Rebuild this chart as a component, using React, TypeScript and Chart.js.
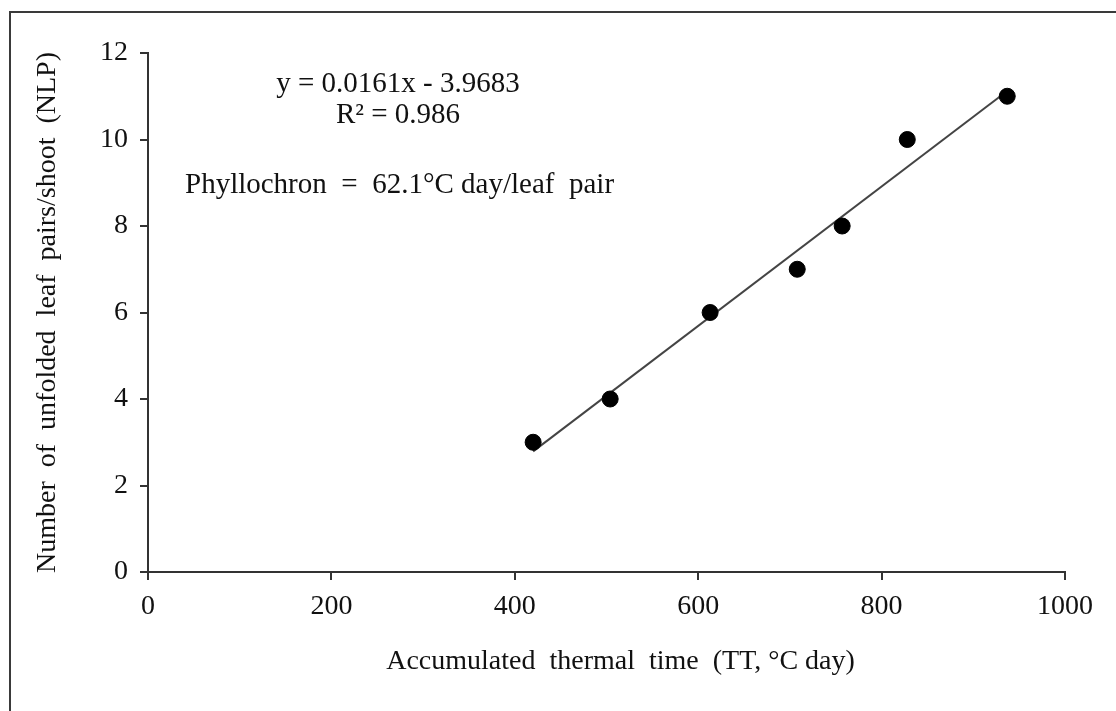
import React, { useEffect, useRef } from "react";
import { Chart, registerables } from "chart.js";

Chart.register(...registerables);

// Data
const thermalTime = [420, 504, 613, 708, 757, 828, 937];
const leafPairs = [3, 4, 6, 7, 8, 10, 11];
// Linear trend line endpoints (from the printed equation at the data extremes)
const trendX = [420, 937];
const trendY = [2.79, 11.12];

const xTicks = [0, 200, 400, 600, 800, 1000];
const yTicks = [0, 2, 4, 6, 8, 10, 12];

const equationText = "y = 0.0161x - 3.9683";
const r2Text = "R\u00b2 = 0.986";
const phyllochronText = "Phyllochron  =  62.1\u00b0C day/leaf  pair";
const xTitle = "    Accumulated  thermal  time  (TT, \u00b0C day)";
const yTitle = "Number  of  unfolded  leaf  pairs/shoot  (NLP)";

const FONT = "'Liberation Serif', 'Times New Roman', serif";

const framePlugin = {
  id: "frame",
  beforeDraw(chart: any) {
    const ctx = chart.ctx;
    ctx.save();
    ctx.fillStyle = "#ffffff";
    ctx.fillRect(0, 0, chart.width, chart.height);
    ctx.strokeStyle = "#3a3a3a";
    ctx.lineWidth = 2;
    ctx.beginPath();
    ctx.moveTo(10, chart.height);
    ctx.lineTo(10, 12);
    ctx.lineTo(chart.width, 12);
    ctx.stroke();
    ctx.restore();
  },
};

const annotationPlugin = {
  id: "annotations",
  afterDraw(chart: any) {
    const ctx = chart.ctx;
    ctx.save();
    ctx.fillStyle = "#111111";
    ctx.font = `29px ${FONT}`;
    ctx.textBaseline = "alphabetic";
    ctx.textAlign = "center";
    ctx.fillText(equationText, 398, 92);
    ctx.fillText(r2Text, 398, 123);
    ctx.textAlign = "left";
    ctx.fillText(phyllochronText, 185, 193);
    ctx.restore();
  },
};

export default function App() {
  const canvasRef = useRef<HTMLCanvasElement | null>(null);

  useEffect(() => {
    const canvas = canvasRef.current;
    if (!canvas) return;
    const chart = new Chart(canvas, {
      type: "scatter",
      data: {
        datasets: [
          {
            type: "line",
            label: "Trend",
            data: trendX.map((x, i) => ({ x, y: trendY[i] })),
            borderColor: "#444444",
            borderWidth: 2,
            pointRadius: 0,
            fill: false,
            order: 2,
          },
          {
            type: "scatter",
            label: "NLP",
            data: thermalTime.map((x, i) => ({ x, y: leafPairs[i] })),
            backgroundColor: "#000000",
            borderColor: "#000000",
            pointRadius: 8,
            order: 1,
          },
        ],
      },
      options: {
        responsive: false,
        animation: false,
        layout: { padding: { top: 53, right: 51, left: 0, bottom: 0 } },
        plugins: {
          legend: { display: false },
          tooltip: { enabled: false },
        },
        scales: {
          x: {
            type: "linear",
            min: 0,
            max: 1000,
            afterBuildTicks(scale: any) {
              scale.ticks = xTicks.map((v) => ({ value: v }));
            },
            afterFit(scale: any) {
              scale.height = 139;
            },
            ticks: {
              color: "#111111",
              font: { family: FONT, size: 28 },
              padding: 10,
              maxRotation: 0,
              callback: (v: any) => String(v),
            },
            grid: {
              drawOnChartArea: false,
              drawTicks: true,
              tickLength: 8,
              color: "#333333",
              lineWidth: 2,
            },
            border: { display: true, color: "#333333", width: 2 },
            title: {
              display: true,
              text: xTitle,
              color: "#111111",
              font: { family: FONT, size: 28 },
              padding: { top: 0, bottom: 33 },
            },
          },
          y: {
            type: "linear",
            min: 0,
            max: 12,
            afterBuildTicks(scale: any) {
              scale.ticks = yTicks.map((v) => ({ value: v }));
            },
            afterFit(scale: any) {
              scale.width = 148;
            },
            ticks: {
              color: "#111111",
              font: { family: FONT, size: 28 },
              padding: 12,
              callback: (v: any) => String(v),
            },
            grid: {
              drawOnChartArea: false,
              drawTicks: true,
              tickLength: 8,
              color: "#333333",
              lineWidth: 2,
            },
            border: { display: true, color: "#333333", width: 2 },
            title: {
              display: true,
              text: yTitle,
              color: "#111111",
              font: { family: FONT, size: 28 },
              padding: { top: 31, bottom: 0 },
            },
          },
        },
      },
      plugins: [framePlugin, annotationPlugin],
    } as any);
    return () => chart.destroy();
  }, []);

  return (
    <div style={{ position: "absolute", left: 0, top: 0, width: 1116, height: 711, background: "#fff" }}>
      <canvas ref={canvasRef} width={1116} height={711} style={{ display: "block" }} />
    </div>
  );
}
